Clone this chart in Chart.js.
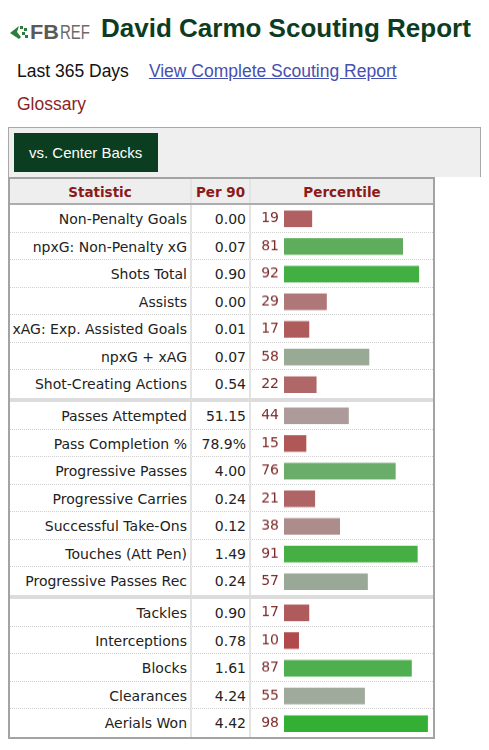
<!DOCTYPE html>
<html>
<head>
<meta charset="utf-8">
<script src="https://cdn.jsdelivr.net/npm/chart.js@4.4.1/dist/chart.umd.min.js"></script>
<style>
html, body { margin: 0; padding: 0; background: #fff; }
body { width: 489px; height: 750px; position: relative; overflow: hidden; font-family: "Liberation Sans", Arial, sans-serif; }
#logo { position: absolute; left: 0; top: 0; }
#title { position: absolute; left: 101px; top: 13px; margin: 0; font-size: 26px; line-height: 30px; font-weight: bold; color: #0c3d22; white-space: nowrap; }
#sub { position: absolute; left: 17px; top: 61px; font-size: 17.5px; line-height: 20px; color: #111; white-space: nowrap; }
#sub a { margin-left: 20px; color: #4650b0; text-decoration: underline; }
#gloss { position: absolute; left: 17px; top: 94px; font-size: 17.5px; line-height: 20px; color: #8b1f1f; }
#filter { position: absolute; left: 8px; top: 127px; width: 473px; height: 50px; box-sizing: border-box; background: #efefef; border: 1px solid #a8a8a8; border-bottom: none; }
#btn { position: absolute; left: 5px; top: 5px; width: 144px; height: 39px; background: #0b3d20; color: #fff; font-size: 15px; line-height: 39px; padding-left: 15px; box-sizing: border-box; }
#tbl { position: absolute; left: 8px; top: 177px; width: 427px; box-sizing: border-box; border: 2px solid #a3a3a3; font-family: "DejaVu Sans", Verdana, sans-serif; font-size: 14px; background: #fff; }
.row { display: flex; height: 27.5px; box-sizing: border-box; border-bottom: 1px dotted #cfcfcf; }
.row.last { border-bottom: none; }
.c1, .c2, .c3 { box-sizing: border-box; line-height: 26.5px; padding-top: 1px; white-space: nowrap; }
.c1 { width: 182px; text-align: right; padding-right: 3px; border-right: 2px solid #e3e3e3; color: #222; }
.c2 { width: 59px; text-align: right; padding-right: 3px; border-right: 2px solid #e3e3e3; color: #222; }
.c3 { flex: 1; }
.head { height: 26px; background: #eeeeee; border-bottom: 2px solid #acacac; }
.head div { text-align: center; font-weight: bold; font-size: 13.5px; color: #8b1a1a; padding: 0; line-height: 25px; padding-top: 1px; }
.sec { position: relative; }
.sep { height: 4.5px; background: #dcdcdc; }
.chartBox { position: absolute; left: 241px; top: 0; right: 0; bottom: 0; }
</style>
</head>
<body>
<svg id="logo" width="100" height="50">
  <polygon points="10,33 19,26 17,32 21,37 19,39" fill="#2e7d3c"/>
  <rect x="20" y="26" width="3" height="3" fill="#2e7d3c"/>
  <rect x="24" y="28" width="3" height="3" fill="#2e7d3c"/>
  <rect x="22" y="32" width="3" height="3" fill="#2e7d3c"/>
  <rect x="25" y="35" width="3" height="3" fill="#2e7d3c"/>
  <text x="30" y="39" font-family="Liberation Sans" font-weight="bold" font-size="20" fill="#5a5a5a" textLength="29" lengthAdjust="spacingAndGlyphs">FB</text>
  <text x="60" y="39" font-family="Liberation Sans" font-size="20" fill="#6a6a6a" textLength="30" lengthAdjust="spacingAndGlyphs">REF</text>
</svg>
<h1 id="title">David Carmo Scouting Report</h1>
<div id="sub"><span>Last 365 Days</span><a>View Complete Scouting Report</a></div>
<div id="gloss">Glossary</div>
<div id="filter"><div id="btn">vs. Center Backs</div></div>
<div id="tbl">
  <div class="row head"><div class="c1">Statistic</div><div class="c2">Per 90</div><div class="c3">Percentile</div></div>
  <div class="sec" id="sec0"></div>
  <div class="sep"></div>
  <div class="sec" id="sec1"></div>
  <div class="sep"></div>
  <div class="sec" id="sec2"></div>
</div>
<script>
// shooting / creating
const attackStats = ['Non-Penalty Goals', 'npxG: Non-Penalty xG', 'Shots Total', 'Assists', 'xAG: Exp. Assisted Goals', 'npxG + xAG', 'Shot-Creating Actions'];
const attackPer90 = ['0.00', '0.07', '0.90', '0.00', '0.01', '0.07', '0.54'];
const attackPct = [19, 81, 92, 29, 17, 58, 22];

// passing / possession
const passStats = ['Passes Attempted', 'Pass Completion %', 'Progressive Passes', 'Progressive Carries', 'Successful Take-Ons', 'Touches (Att Pen)', 'Progressive Passes Rec'];
const passPer90 = ['51.15', '78.9%', '4.00', '0.24', '0.12', '1.49', '0.24'];
const passPct = [44, 15, 76, 21, 38, 91, 57];

// defending
const defStats = ['Tackles', 'Interceptions', 'Blocks', 'Clearances', 'Aerials Won'];
const defPer90 = ['0.90', '0.78', '1.61', '4.24', '4.42'];
const defPct = [17, 10, 87, 55, 98];

// red -> grey -> green scale like fbref
function pctColor(p) {
    const low = [178, 52, 52], mid = [172, 168, 168], high = [46, 176, 46];
    let a, b, t;
    if (p < 50) { a = low; b = mid; t = p / 50; } else { a = mid; b = high; t = (p - 50) / 50; }
    const c = a.map((v, i) => Math.round(v + (b[i] - v) * t));
    return 'rgb(' + c.join(',') + ')';
}

function buildSection(id, stats, per90, pct) {
    const sec = document.getElementById(id);
    stats.forEach(function (s, i) {
        const row = document.createElement('div');
        row.className = 'row' + (i === stats.length - 1 ? ' last' : '');
        row.innerHTML = '<div class="c1"></div><div class="c2"></div><div class="c3"></div>';
        row.children[0].textContent = s;
        row.children[1].textContent = per90[i];
        sec.appendChild(row);
    });
    const box = document.createElement('div');
    box.className = 'chartBox';
    const cv = document.createElement('canvas');
    box.appendChild(cv);
    sec.appendChild(box);

    new Chart(cv, {
        type: 'bar',
        data: {
            labels: stats,
            datasets: [{
                data: pct,
                backgroundColor: pct.map(pctColor),
                borderWidth: 0,
                barThickness: 16
            }]
        },
        options: {
            indexAxis: 'y',
            responsive: true,
            maintainAspectRatio: false,
            animation: false,
            layout: { padding: { left: 0, right: 2.5, top: 0, bottom: 0 } },
            plugins: {
                legend: { display: false },
                tooltip: { enabled: false }
            },
            scales: {
                x: { display: false, min: 0, max: 100 },
                y: {
                    grid: { display: false, drawTicks: false },
                    border: { display: false },
                    ticks: {
                        color: '#7d2b2b',
                        padding: 5,
                        font: { family: 'DejaVu Sans', size: 14 },
                        callback: function (v, i) { return pct[i]; } // show percentile instead of name
                    },
                    afterFit: function (scale) {
                        scale.width = 33;
                        // bands must line up with the html rows
                        scale.paddingTop = 0;
                        scale.paddingBottom = 0;
                    }
                }
            }
        }
    });
}

buildSection('sec0', attackStats, attackPer90, attackPct);
buildSection('sec1', passStats, passPer90, passPct);
buildSection('sec2', defStats, defPer90, defPct);
</script>
</body>
</html>
